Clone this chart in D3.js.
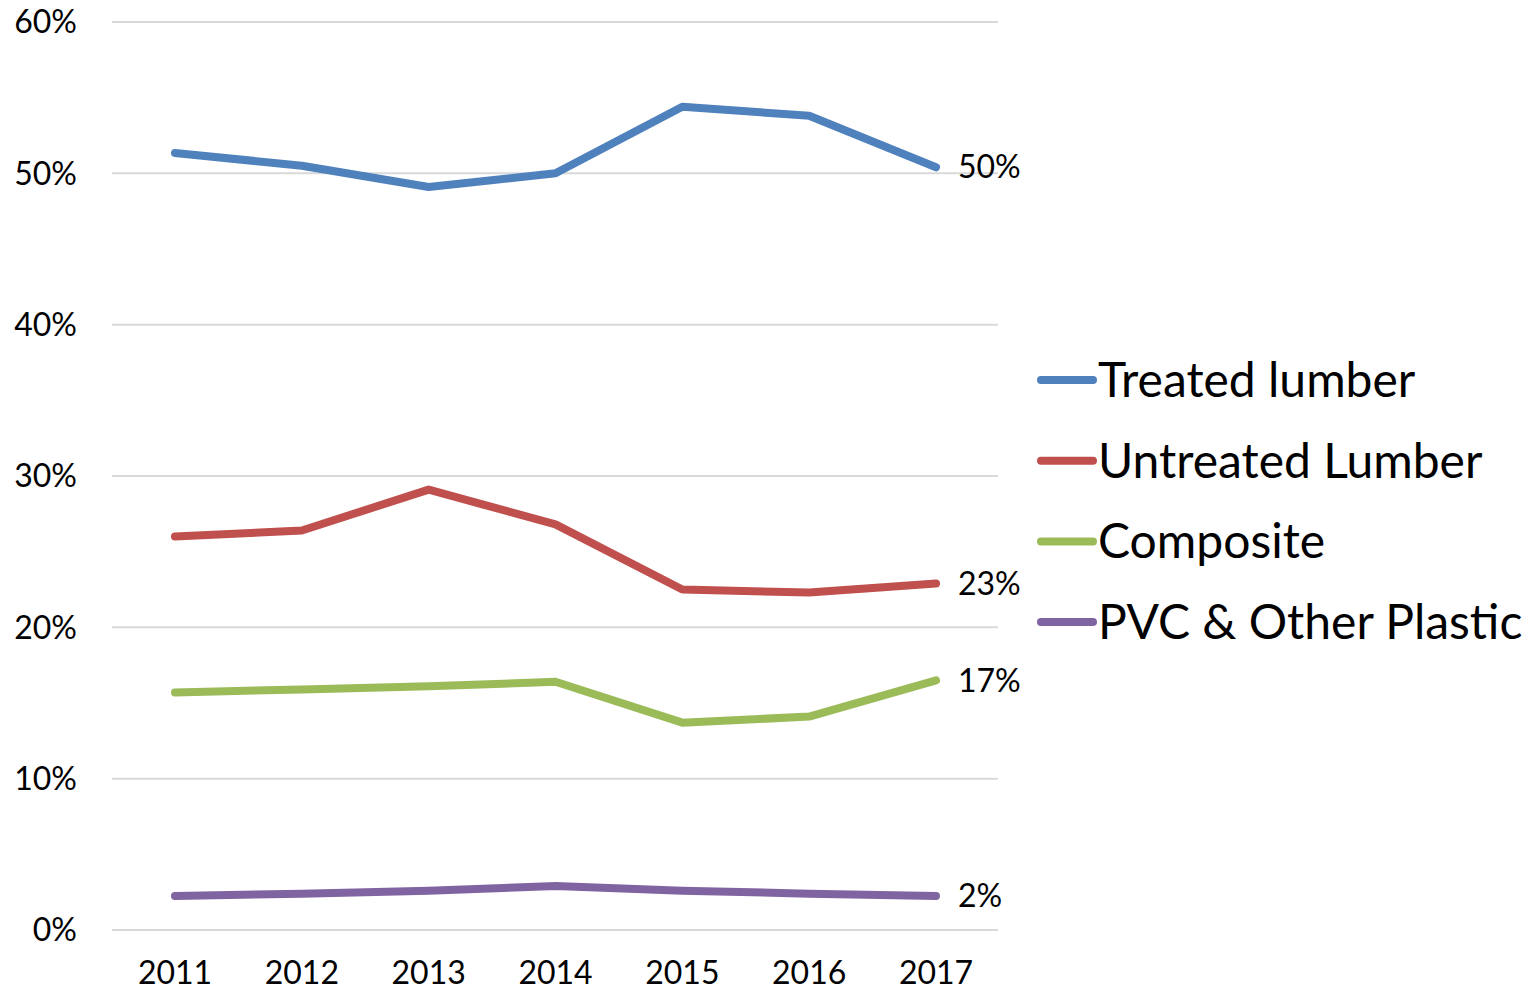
<!DOCTYPE html>
<html>
<head>
<meta charset="utf-8">
<script src="https://cdnjs.cloudflare.com/ajax/libs/d3/7.8.5/d3.min.js"></script>
<style>
  body { margin: 0; background: #fff; }
  svg text { font-family: Lato, "Open Sans", sans-serif; fill: #000; }
</style>
</head>
<body>
<div id="chart"></div>
<script>
// data
var years = ['2011', '2012', '2013', '2014', '2015', '2016', '2017'];
var seriesNames = ['Treated lumber', 'Untreated Lumber', 'Composite', 'PVC & Other Plastic'];
var treated   = [0.5135, 0.505, 0.491, 0.500, 0.544, 0.538, 0.504];
var untreated = [0.260, 0.264, 0.291, 0.268, 0.225, 0.223, 0.229];
var composite = [0.157, 0.159, 0.161, 0.164, 0.137, 0.141, 0.165];
var plastic   = [0.0225, 0.024, 0.026, 0.029, 0.026, 0.024, 0.0225];
var endLabels = ['50%', '23%', '17%', '2%'];
var yTicks = [0, 0.1, 0.2, 0.3, 0.4, 0.5, 0.6];

var colors = ['#4f81bd', '#c0504d', '#9bbb59', '#8064a2'];
var allSeries = [treated, untreated, composite, plastic];

var width = 1540, height = 993;

var svg = d3.select('#chart').append('svg')
  .attr('width', width)
  .attr('height', height);

var x = d3.scalePoint().domain(years).range([175, 936]);
var y = d3.scaleLinear().domain([0, 0.6]).range([930, 22]);

// gridlines
svg.append('g').selectAll('line')
  .data(yTicks)
  .enter().append('line')
  .attr('x1', 112).attr('x2', 998)
  .attr('y1', function(d){ return y(d); })
  .attr('y2', function(d){ return y(d); })
  .attr('stroke', '#d9d9d9')
  .attr('stroke-width', 2);

// y axis labels
svg.append('g').selectAll('text')
  .data(yTicks)
  .enter().append('text')
  .attr('x', 77)
  .attr('y', function(d){ return y(d); })
  .attr('dy', '0.35em')
  .attr('text-anchor', 'end')
  .style('font-size', '32px')
  .text(function(d){ return d3.format('.0%')(d); });

// x axis labels (the reference crops them at the bottom edge)
svg.append('g').selectAll('text')
  .data(years)
  .enter().append('text')
  .attr('x', function(d){ return x(d); })
  .attr('y', 984)
  .attr('text-anchor', 'middle')
  .style('font-size', '32px')
  .text(function(d){ return d; });

var line = d3.line()
  .x(function(d, i){ return x(years[i]); })
  .y(function(d){ return y(d); });

svg.append('g').selectAll('path')
  .data(allSeries)
  .enter().append('path')
  .attr('d', line)
  .attr('fill', 'none')
  .attr('stroke', function(d, i){ return colors[i]; })
  .attr('stroke-width', 8)
  .attr('stroke-linecap', 'round')
  .attr('stroke-linejoin', 'round');

// labels at the last point
svg.append('g').selectAll('text')
  .data(allSeries)
  .enter().append('text')
  .attr('x', 958)
  .attr('y', function(d){ return y(d[d.length - 1]); })
  .attr('dy', '0.35em')
  .style('font-size', '32px')
  .text(function(d, i){ return endLabels[i]; });

// legend
var legend = svg.append('g').selectAll('g')
  .data(seriesNames)
  .enter().append('g')
  .attr('transform', function(d, i){ return 'translate(1038,' + (380 + i * 80.7) + ')'; });

legend.append('line')
  .attr('x1', 3).attr('x2', 55)
  .attr('stroke', function(d, i){ return colors[i]; })
  .attr('stroke-width', 8)
  .attr('stroke-linecap', 'round');

legend.append('text')
  .attr('x', 60)
  .attr('dy', '0.35em')
  .style('font-size', '48px')
  .text(function(d){ return d; });
</script>
</body>
</html>
